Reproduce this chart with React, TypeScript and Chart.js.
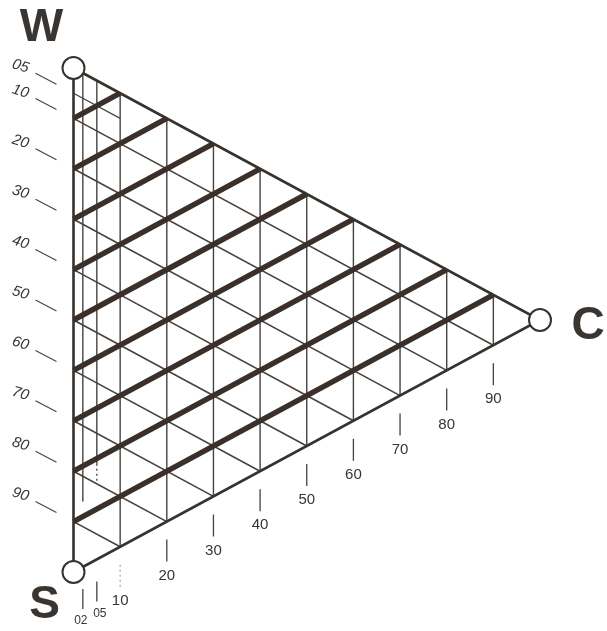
import React, { useEffect, useRef } from 'react';
import { Chart, registerables } from 'chart.js';
Chart.register(...registerables);

// ---- data (percentages) ----
const GRID_C = [10, 20, 30, 40, 50, 60, 70, 80, 90]; // thin vertical lines (constant C)
const GRID_W = [90, 80, 70, 60, 50, 40, 30, 20, 10]; // thick lines (constant W)
const GRID_S = [10, 20, 30, 40, 50, 60, 70, 80, 90]; // thin lines (constant S)
const MINOR_C = [2, 5];
const MINOR_C_END_W = [13, 19];
const MINOR_C_DOT_END_W = [13, 15];
const MINOR_S = [5];
const MINOR_S_END_C = [10];
const LEFT_TICK_VALUES = [5, 10, 20, 30, 40, 50, 60, 70, 80, 90];
const LEFT_TICK_LABELS = ['05', '10', '20', '30', '40', '50', '60', '70', '80', '90'];
const BOTTOM_TICK_VALUES = [2, 5, 10, 20, 30, 40, 50, 60, 70, 80, 90];
const BOTTOM_TICK_LABELS = ['02', '05', '10', '20', '30', '40', '50', '60', '70', '80', '90'];
const VERTEX_LABELS = ['W', 'S', 'C'];

// ternary (S, W, C in %) -> plane coords
function tern(s: number, w: number, c: number) {
  const t = s + w + c;
  const W = w / t, C = c / t;
  return { x: C, y: W + 0.5 * C };
}

const W_PX = 607, H_PX = 631;
const X_PER = 466.5, Y_PER = 504;
const X0 = 73.5, Y0 = 572;
const X_MIN = -X0 / X_PER, X_MAX = (W_PX - X0) / X_PER;
const Y_MIN = -(H_PX - Y0) / Y_PER, Y_MAX = 1 + (Y0 - Y_PER) / Y_PER;

const INK = '#36322e';
const THICK = '#3a3029';
const THIN = '#46433f';

function lineDs(pts: { x: number; y: number }[], color: string, width: number, order: number, dash?: number[]) {
  return {
    data: pts,
    showLine: true,
    pointRadius: 0,
    borderColor: color,
    borderWidth: width,
    borderDash: dash || [],
    fill: false,
    tension: 0,
    clip: false,
    order,
  } as any;
}

export default function App() {
  const ref = useRef<HTMLCanvasElement>(null);
  useEffect(() => {
    const datasets: any[] = [];
    // thin vertical C lines
    GRID_C.forEach((c) => datasets.push(lineDs([tern(0, 100 - c, c), tern(100 - c, 0, c)], THIN, 1.4, 4)));
    // minor C lines
    MINOR_C.forEach((c, i) => {
      datasets.push(lineDs([tern(0, 100 - c, c), tern(100 - c - MINOR_C_END_W[i], MINOR_C_END_W[i], c)], THIN, 1.4, 4));
      if (MINOR_C_DOT_END_W[i] < MINOR_C_END_W[i]) {
        datasets.push(lineDs([tern(100 - c - MINOR_C_END_W[i], MINOR_C_END_W[i], c), tern(100 - c - MINOR_C_DOT_END_W[i], MINOR_C_DOT_END_W[i], c)], THIN, 1.3, 4, [2, 3]));
      }
    });
    // thin S lines
    GRID_S.forEach((s) => datasets.push(lineDs([tern(s, 100 - s, 0), tern(s, 0, 100 - s)], THIN, 1.6, 4)));
    MINOR_S.forEach((s, i) => datasets.push(lineDs([tern(s, 100 - s, 0), tern(s, 100 - s - MINOR_S_END_C[i], MINOR_S_END_C[i])], THIN, 1.2, 4)));
    // thick W lines
    GRID_W.forEach((w) => datasets.push(lineDs([tern(100 - w, w, 0), tern(0, w, 100 - w)], THICK, 5.5, 2)));
    // triangle edges
    datasets.push(lineDs([tern(0, 100, 0), tern(100, 0, 0), tern(0, 0, 100), tern(0, 100, 0)], INK, 2.6, 3));
    // bottom ticks
    const dy = (px: number) => px / Y_PER;
    const dx = (px: number) => px / X_PER;
    BOTTOM_TICK_VALUES.forEach((c) => {
      const p = tern(100 - c, 0, c);
      datasets.push(lineDs([{ x: p.x, y: p.y - dy(c < 10 ? 22 : 18) }, { x: p.x, y: p.y - dy(c < 10 ? 42 : 40) }], c === 10 ? '#b0aca8' : THIN, 1.3, 4, c === 10 ? [2, 3] : []));
    });
    // left ticks
    LEFT_TICK_VALUES.forEach((s) => {
      const p = tern(s, 100 - s, 0);
      datasets.push(lineDs([{ x: p.x - dx(38), y: p.y + dy(20) }, { x: p.x - dx(17), y: p.y + dy(9) }], THIN, 1.1, 4));
    });
    // vertices
    datasets.push({
      data: [tern(0, 100, 0), tern(100, 0, 0), tern(0, 0, 100)],
      showLine: false,
      pointRadius: 11,
      pointHoverRadius: 11,
      pointBackgroundColor: '#ffffff',
      pointBorderColor: INK,
      pointBorderWidth: 2,
      clip: false,
      order: 0,
    });

    const labelPlugin = {
      id: 'ternLabels',
      afterDatasetsDraw(chart: any) {
        const ctx = chart.ctx;
        const xs = chart.scales.x, ys = chart.scales.y;
        const P = (p: { x: number; y: number }) => ({ x: xs.getPixelForValue(p.x), y: ys.getPixelForValue(p.y) });
        ctx.save();
        ctx.fillStyle = '#353535';
        ctx.textAlign = 'center';
        ctx.textBaseline = 'middle';
        // bottom labels
        BOTTOM_TICK_VALUES.forEach((c, i) => {
          const p = P(tern(100 - c, 0, c));
          ctx.font = (c < 10 ? '12px' : '15px') + ' "Liberation Sans", Arial, sans-serif';
          ctx.fillText(BOTTOM_TICK_LABELS[i], p.x + (c === 2 ? -2 : c === 5 ? 3 : 0), p.y + 54);
        });
        // left labels
        LEFT_TICK_VALUES.forEach((s, i) => {
          const p = P(tern(s, 100 - s, 0));
          ctx.save();
          ctx.translate(p.x - 53, p.y - 27);
          ctx.rotate(0.3);
          ctx.font = 'italic 15px "Liberation Sans", Arial, sans-serif';
          ctx.fillText(LEFT_TICK_LABELS[i], 0, 0);
          ctx.restore();
        });
        // vertex labels
        const verts = [tern(0, 100, 0), tern(100, 0, 0), tern(0, 0, 100)];
        const offs = [[-32, -40], [-29, 33], [48, 6]];
        ctx.font = 'bold 46px "Liberation Sans", Arial, sans-serif';
        ctx.fillStyle = '#3a3530';
        verts.forEach((v, i) => {
          const p = P(v);
          ctx.fillText(VERTEX_LABELS[i], p.x + offs[i][0], p.y + offs[i][1]);
        });
        ctx.restore();
      },
    };

    const chart = new Chart(ref.current as HTMLCanvasElement, {
      type: 'scatter',
      data: { datasets },
      options: {
        animation: false,
        responsive: false,
        events: [],
        layout: { padding: 0, autoPadding: false } as any,
        plugins: { legend: { display: false }, tooltip: { enabled: false } },
        scales: {
          x: { type: 'linear', display: false, min: X_MIN, max: X_MAX },
          y: { type: 'linear', display: false, min: Y_MIN, max: Y_MAX },
        },
      },
      plugins: [labelPlugin],
    } as any);
    return () => chart.destroy();
  }, []);
  return (
    <div style={{ position: 'fixed', left: 0, top: 0, width: W_PX, height: H_PX, background: '#ffffff' }}>
      <canvas ref={ref} width={W_PX} height={H_PX} style={{ display: 'block' }} />
    </div>
  );
}
